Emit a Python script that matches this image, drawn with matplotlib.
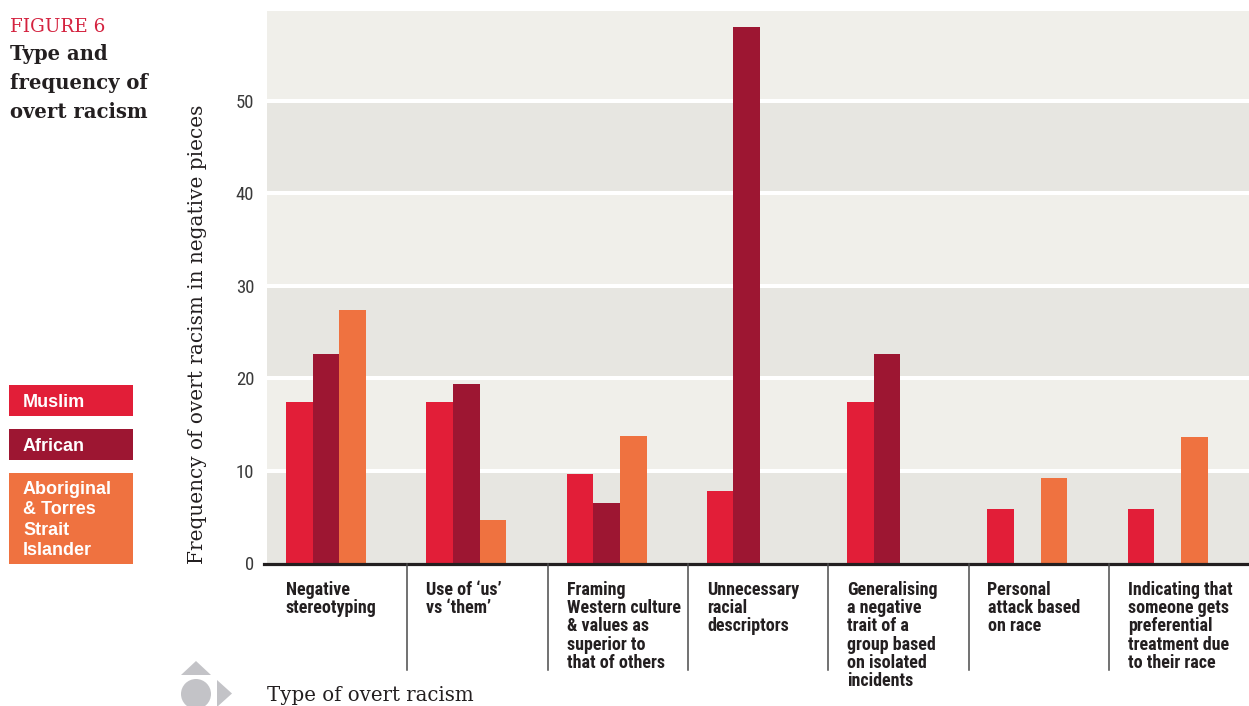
import matplotlib
matplotlib.use("Agg")
import matplotlib.pyplot as plt
from matplotlib import font_manager as fm
from matplotlib.patches import Rectangle, Polygon, Circle
from matplotlib.transforms import offset_copy

# ---- data -------------------------------------------------------------
categories = [
    ["Negative", "stereotyping"],
    ["Use of \u2018us\u2019", "vs \u2018them\u2019"],
    ["Framing", "Western culture", "& values as", "superior to", "that of others"],
    ["Unnecessary", "racial", "descriptors"],
    ["Generalising", "a negative", "trait of a", "group based", "on isolated", "incidents"],
    ["Personal", "attack based", "on race"],
    ["Indicating that", "someone gets", "preferential", "treatment due", "to their race"],
]
series_names = ["Muslim", "African", "Aboriginal\n& Torres\nStrait\nIslander"]
muslim = [17.5, 17.4, 9.7, 7.8, 17.4, 5.9, 5.9]
african = [22.6, 19.4, 6.5, 58.0, 22.6, 0, 0]
aboriginal = [27.4, 4.7, 13.8, 0, 0, 9.2, 13.7]
y_ticks = [0, 10, 20, 30, 40, 50]

# ---- style ------------------------------------------------------------
COL_MUSLIM = "#e21e38"
COL_AFRICAN = "#9d1632"
COL_ABORIG = "#ef7240"
BAND_LIGHT = "#f0efea"
BAND_DARK = "#e7e6e1"
INK = "#231f20"
RED_TITLE = "#d4223f"
ICON = "#c3c3c7"

installed = {f.name for f in fm.fontManager.ttflist}


def pick(*cands):
    for c in cands:
        if c in installed:
            return c
    return "DejaVu Sans"


NARROW = pick("Liberation Sans Narrow", "DejaVu Sans Condensed", "Roboto Condensed", "Liberation Sans")
SANS = pick("Liberation Sans", "Roboto", "DejaVu Sans")
SERIF = pick("DejaVu Serif", "Liberation Serif")

W, H, DPI = 1249, 706, 100
fig = plt.figure(figsize=(W / DPI, H / DPI), dpi=DPI)
fig.patch.set_facecolor("white")

# main plotting area (pixel geometry converted to figure fractions)
ax_l, ax_r, ax_t, ax_b = 267, 1249, 11, 563.5
cell = 140.3
ax = fig.add_axes([ax_l / W, (H - ax_b) / H, (ax_r - ax_l) / W, (ax_b - ax_t) / H])

n = len(categories)
ymax = 59.7
ax.set_xlim(0, (ax_r - ax_l) / cell)
ax.set_ylim(0, ymax)
ax.set_facecolor(BAND_LIGHT)

# alternating horizontal bands
for lo in range(0, 60, 20):
    ax.axhspan(lo, lo + 10, color=BAND_DARK, zorder=0.2, lw=0)

ax.set_axisbelow(True)
ax.set_yticks(y_ticks)
ax.yaxis.grid(True, color="white", lw=2.9)
ax.get_ygridlines()[0].set_visible(False)

# grouped bars
bw = 0.19
start = 0.135
for k, (vals, col) in enumerate(zip([muslim, african, aboriginal],
                                    [COL_MUSLIM, COL_AFRICAN, COL_ABORIG])):
    xs = [i + start + bw * (k + 0.5) for i in range(n)]
    ax.bar(xs, vals, width=bw, color=col, lw=0, zorder=2)

# baseline
ax.axhline(0, xmin=-3 / (ax_r - ax_l), xmax=1, color=INK, lw=2.3, zorder=3, clip_on=False)

for s in ax.spines.values():
    s.set_visible(False)
ax.set_xticks([])
ax.tick_params(axis="y", length=0, pad=9.2, labelsize=13.5, labelcolor="#3a3a3a")
for t in ax.get_yticklabels():
    t.set_fontfamily(NARROW)

# category separators below the baseline
xt = ax.get_xaxis_transform()
sep_len = 106 / (ax_b - ax_t)
for i in range(1, n):
    ax.plot([i, i], [0, -sep_len], transform=xt, color="#4a4a4a", lw=1.1,
            clip_on=False, zorder=3)

# category labels, one line at a time
for i, lines in enumerate(categories):
    for j, line in enumerate(lines):
        tr = offset_copy(xt, fig=fig, x=19, y=-(31.5 + 18.2 * j), units="dots")
        ax.text(i, 0, line, transform=tr, ha="left", va="baseline",
                fontsize=13, fontweight="bold", family=NARROW, color=INK)

# axis titles
ax.set_ylabel("Frequency of overt racism in negative pieces", loc="bottom",
              family=SERIF, fontsize=14.4, color=INK)
ax.yaxis.set_label_coords((207 - ax_l) / (ax_r - ax_l), 0)

# overlay in pixel units for title, legend and icon
ov = fig.add_axes([0, 0, 1, 1], zorder=5)
ov.set_xlim(0, W)
ov.set_ylim(H, 0)
ov.axis("off")

ov.text(267, 701, "Type of overt racism", family=SERIF, fontsize=14.2,
        color=INK, ha="left", va="baseline")

ov.text(10, 31.5, "FIGURE 6", family=SERIF, fontsize=13.2, color=RED_TITLE,
        ha="left", va="baseline")
for line, base in zip(["Type and", "frequency of", "overt racism"], [60, 89.3, 118.3]):
    ov.text(10, base, line, family=SERIF, fontsize=14.1, fontweight="bold",
            color=INK, ha="left", va="baseline")

# legend boxes
boxes = [(385, 416), (429, 460), (473, 564)]
baselines = [[407], [451], [494, 514, 535, 555]]
for name, col, (top, bot), bases in zip(series_names,
                                         [COL_MUSLIM, COL_AFRICAN, COL_ABORIG],
                                         boxes, baselines):
    ov.add_patch(Rectangle((9, top), 124, bot - top, color=col, lw=0))
    for line, b in zip(name.split("\n"), bases):
        ov.text(23, b, line, family=SANS, fontsize=13, fontweight="bold",
                color="white", ha="left", va="baseline")

# navigation icon
ov.add_patch(Polygon([(181, 675), (211, 675), (196, 661)], closed=True, color=ICON, lw=0))
ov.add_patch(Circle((196, 694), 15, color=ICON, lw=0))
ov.add_patch(Polygon([(217, 680), (217, 707), (232, 693.5)], closed=True, color=ICON, lw=0))

fig.savefig("out.png", dpi=DPI)
